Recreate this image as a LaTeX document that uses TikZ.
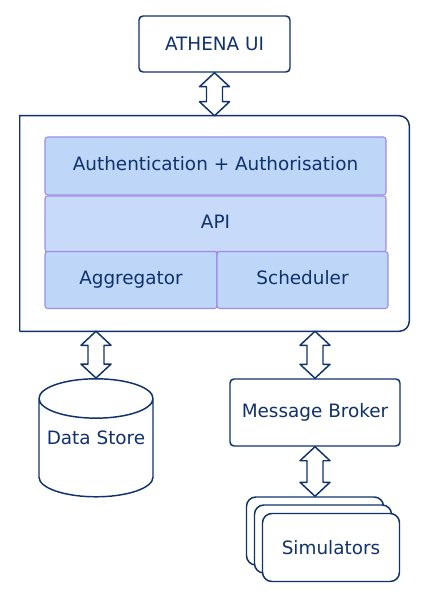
\documentclass[tikz,border=0pt]{standalone}
\usepackage{fontspec}
\setmainfont{DejaVu Sans}
\usepackage{tikz}
\usetikzlibrary{shapes,arrows,positioning,fit,backgrounds,calc}
\definecolor{inkblue}{RGB}{16,50,108}
\definecolor{layerblue}{RGB}{190,214,248}
\definecolor{apiblue}{RGB}{199,218,249}
\definecolor{layeredge}{RGB}{160,140,228}

\tikzset{
    every node/.style={font=\fontsize{13.8}{16}\selectfont, text=inkblue},
    plainbox/.style={draw=inkblue, line width=1.1pt, fill=white, rounded corners=3pt, inner sep=0pt},
    layerbox/.style={draw=layeredge, line width=0.8pt, fill=layerblue, rounded corners=2pt, inner sep=0pt,
        text height=10pt, text depth=3pt},
    simbox/.style={draw=inkblue, line width=1.1pt, fill=white, rounded corners=7pt,
        minimum width=102.75pt, minimum height=51pt, inner sep=0pt},
    blockarrow/.style={draw=inkblue, line width=1.1pt, fill=white, line join=round}
}

% two-headed block arrow from the top point #1 down to the bottom point #2
\newcommand{\dualarrow}[2]{
    \draw[blockarrow] (#1) -- ++(15,14) -- ++(-7,0) -- ($(#2)+(8,-14)$) -- ++(7,0)
        -- (#2) -- ++(-15,-14) -- ++(7,0) -- ($(#1)+(-8,14)$) -- ++(-7,0) -- cycle;
}

\begin{document}
\begin{tikzpicture}[x=0.75pt, y=-0.75pt]
        \useasboundingbox (0,0) rectangle (429,598);

        % front end
        \node[plainbox, minimum width=113.25pt, minimum height=42pt] (ui) at (214.5,44) {ATHENA UI};

        % system with its layers
        \node[inner sep=0pt, minimum width=291.75pt, minimum height=161.25pt] (sys) at (214.5,223.5) {};
        \draw[draw=inkblue, line width=1.1pt] (sys.south west) -- (sys.north west)
            [rounded corners=7.5pt] -- (sys.north east) -- (sys.south east) -- (sys.south west);
        \node[layerbox, minimum width=255.75pt, minimum height=43.5pt] (auth) at (215.5,166)
            {Authentication + Authorisation};
        \node[layerbox, fill=apiblue, minimum width=255.75pt, minimum height=42pt] (api) at (215.5,224) {API};
        \node[layerbox, minimum width=129pt, minimum height=42.75pt] (agg) at (131,280) {Aggregator};
        \node[layerbox, minimum width=128.25pt, minimum height=42.75pt] (sched) at (302.5,280) {Scheduler};

        % storage and messaging
        \node[cylinder, shape border rotate=90, aspect=0.4, draw=inkblue, line width=1.1pt, fill=white,
            minimum width=85.5pt, minimum height=88.5pt, inner sep=0pt] (store) at (96,448)
            {\raisebox{15pt}{Data Store}};
        \node[plainbox, minimum width=127.5pt, minimum height=50.25pt] (broker) at (315,412.5) {Message Broker};

        % simulators, back to front
        \node[simbox] (simback) at (315,531) {};
        \node[simbox] (simmid) at (323,539) {};
        \node[simbox] (sim) at (331,547.5) {Simulators};

        % connectors
        \coordinate (storetop) at (sys.south -| store.north);
        \coordinate (brokertop) at (sys.south -| broker.north);
        \dualarrow{ui.south}{sys.north}
        \dualarrow{storetop}{store.north}
        \dualarrow{brokertop}{broker.north}
        \dualarrow{broker.south}{simback.north}
    \end{tikzpicture}
\end{document}
